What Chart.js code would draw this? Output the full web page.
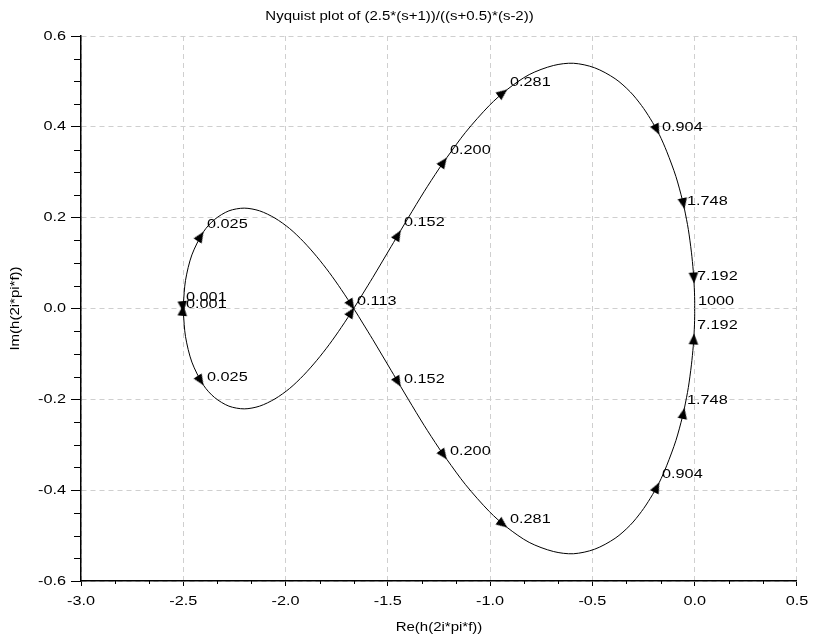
<!DOCTYPE html>
<html><head><meta charset="utf-8">
<script src="https://cdn.jsdelivr.net/npm/chart.js@4.4.1/dist/chart.umd.min.js"></script>
<style>html,body{margin:0;padding:0;background:#fff}#wrap{width:814px;height:640px}</style>
</head><body><div id="wrap"><canvas id="c" width="814" height="640"></canvas></div>
<script>
const titleText = 'Nyquist plot of (2.5*(s+1))/((s+0.5)*(s-2))';
const xTitle = 'Re(h(2i*pi*f))';
const yTitle = 'Im(h(2i*pi*f))';
const xTickValues = [-3.0, -2.5, -2.0, -1.5, -1.0, -0.5, 0.0, 0.5];
const yTickValues = [-0.6, -0.4, -0.2, 0.0, 0.2, 0.4, 0.6];

const curveRe = [-2.500,-2.489,-2.458,-2.401,-2.347,-2.277,-2.202,-2.127,-2.052,-1.980,-1.912,-1.847,-1.786,-1.728,-1.664,-1.623,-1.574,-1.483,-1.437,-1.400,-1.323,-1.251,-1.212,-1.120,-1.004,-0.917,-0.809,-0.691,-0.593,-0.489,-0.389,-0.315,-0.260,-0.217,-0.173,-0.136,-0.092,-0.060,-0.050,-0.031,-0.016,-0.007,-0.003,-0.001,0.000,0.000,0.000];
// branch through the upper small loop and the lower big loop
const curveImPos = [0.008,0.062,0.118,0.169,0.196,0.215,0.221,0.215,0.199,0.176,0.147,0.114,0.079,0.042,-0.002,-0.032,-0.068,-0.137,-0.172,-0.200,-0.257,-0.307,-0.332,-0.388,-0.447,-0.482,-0.515,-0.535,-0.540,-0.530,-0.506,-0.477,-0.447,-0.418,-0.383,-0.345,-0.291,-0.239,-0.219,-0.174,-0.124,-0.083,-0.055,-0.036,-0.017,-0.006,-0.0004];
// branch through the lower small loop and the upper big loop
const curveImNeg = [-0.008,-0.062,-0.118,-0.169,-0.196,-0.215,-0.221,-0.215,-0.199,-0.176,-0.147,-0.114,-0.079,-0.042,0.002,0.032,0.068,0.137,0.172,0.200,0.257,0.307,0.332,0.388,0.447,0.482,0.515,0.535,0.540,0.530,0.506,0.477,0.447,0.418,0.383,0.345,0.291,0.239,0.219,0.174,0.124,0.083,0.055,0.036,0.017,0.006,0.0004];

// Frequency markers (labels and where they sit)
const markFreq = ['0.001','0.025','0.113','0.152','0.200','0.281','0.904','1.748','7.192','1000'];
const markRe = [-2.500,-2.401,-1.664,-1.437,-1.212,-0.917,-0.173,-0.050,-0.003,0.000];
const markImPos = [0.008,0.169,-0.002,-0.172,-0.332,-0.482,-0.383,-0.219,-0.055,-0.0004];
const markImNeg = [-0.008,-0.169,0.002,0.172,0.332,0.482,0.383,0.219,0.055,0.0004];

const FONT = "'Liberation Sans', Arial, sans-serif";

// The reference's lettering is horizontally wide: stretch text along its baseline
const TEXT_STRETCH = 1.25;
const _fillText = CanvasRenderingContext2D.prototype.fillText;
CanvasRenderingContext2D.prototype.fillText = function (t, x, y, mw) {
  this.save();
  this.translate(x, y);
  this.scale(TEXT_STRETCH, 1);
  if (mw !== undefined && mw !== null) _fillText.call(this, t, 0, 0, mw / TEXT_STRETCH);
  else _fillText.call(this, t, 0, 0);
  this.restore();
};

// arrow head image: tip at the centre, pointing to +x
const arrowImg = document.createElement('canvas');
arrowImg.width = 24; arrowImg.height = 24;
(function(){
  const c = arrowImg.getContext('2d');
  c.fillStyle = '#000';
  c.beginPath(); c.moveTo(12, 12); c.lineTo(1, 7.2); c.lineTo(1, 16.8); c.closePath(); c.fill();
})();

function nearestIndex(imArr, re, im) {
  let j = 0, best = Infinity;
  for (let i = 0; i < curveRe.length; i++) {
    const d = (curveRe[i] - re) ** 2 + (imArr[i] - im) ** 2;
    if (d < best) { best = d; j = i; }
  }
  return j;
}
function arrowAngle(chart, imArr, re, im) {
  const xs = chart.scales.x, ys = chart.scales.y;
  const j = nearestIndex(imArr, re, im);
  const a = j > 0 ? j - 1 : j;
  const b = j < curveRe.length - 1 ? j + 1 : j;
  const dx = xs.getPixelForValue(curveRe[b]) - xs.getPixelForValue(curveRe[a]);
  const dy = ys.getPixelForValue(imArr[b]) - ys.getPixelForValue(imArr[a]);
  return Math.atan2(dy, dx) * 180 / Math.PI;
}
function arrowData(imMarks, imArr) {
  const out = [];
  for (let i = 0; i < markRe.length; i++) {
    const j = nearestIndex(imArr, markRe[i], imMarks[i]);
    if (j < curveRe.length - 1) out.push({x: markRe[i], y: imMarks[i]});
  }
  return out;
}
function curveData(imArr) { return curveRe.map((x, i) => ({x: x, y: imArr[i]})); }

function arrowDataset(imMarks, imArr) {
  return {
    type: 'scatter',
    data: arrowData(imMarks, imArr),
    showLine: false,
    pointStyle: arrowImg,
    pointRadius: 5,
    pointRotation: (ctx) => {
      if (ctx.dataIndex === undefined || !ctx.raw) return 0;
      return arrowAngle(ctx.chart, imArr, ctx.raw.x, ctx.raw.y);
    }
  };
}

const minorTicks = {
  id: 'minorTicks',
  afterDraw(chart) {
    const ctx = chart.ctx, xs = chart.scales.x, ys = chart.scales.y, area = chart.chartArea;
    ctx.save();
    ctx.strokeStyle = '#000'; ctx.lineWidth = 1;
    ctx.beginPath();
    for (let k = 0; k < xTickValues.length - 1; k++) {
      const st = xTickValues[k + 1] - xTickValues[k];
      for (let m = 1; m <= 2; m++) {
        const px = Math.round(xs.getPixelForValue(xTickValues[k] + st * m / 3)) + 0.5;
        ctx.moveTo(px, area.bottom); ctx.lineTo(px, area.bottom + 3);
      }
    }
    for (let k = 0; k < yTickValues.length - 1; k++) {
      const st = yTickValues[k + 1] - yTickValues[k];
      for (let m = 1; m <= 3; m++) {
        const py = Math.round(ys.getPixelForValue(yTickValues[k] + st * m / 4)) + 0.5;
        ctx.moveTo(area.left - 7, py); ctx.lineTo(area.left, py);
      }
    }
    ctx.stroke();
    ctx.restore();
  }
};

const freqLabels = {
  id: 'freqLabels',
  afterDatasetsDraw(chart) {
    const ctx = chart.ctx, xs = chart.scales.x, ys = chart.scales.y;
    ctx.save();
    ctx.font = '13px ' + FONT;
    ctx.fillStyle = '#000';
    ctx.textAlign = 'left';
    ctx.textBaseline = 'alphabetic';
    const drawn = [];
    [markImPos, markImNeg].forEach(arr => {
      for (let i = 0; i < markFreq.length; i++) {
        const px = Math.round(xs.getPixelForValue(markRe[i]) + 3);
        const py = Math.round(ys.getPixelForValue(arr[i]) - 4);
        if (drawn.some(d => d.t === markFreq[i] && Math.abs(d.x - px) <= 1 && Math.abs(d.y - py) <= 1)) continue;
        drawn.push({t: markFreq[i], x: px, y: py});
        ctx.fillText(markFreq[i], px, py);
      }
    });
    ctx.restore();
  }
};

new Chart(document.getElementById('c'), {
  type: 'scatter',
  data: {
    datasets: [
      {type: 'scatter', data: curveData(curveImPos), showLine: true, borderColor: '#000', borderWidth: 1, pointRadius: 0, tension: 0.3},
      {type: 'scatter', data: curveData(curveImNeg), showLine: true, borderColor: '#000', borderWidth: 1, pointRadius: 0, tension: 0.3},
      arrowDataset(markImPos, curveImPos),
      arrowDataset(markImNeg, curveImNeg)
    ]
  },
  options: {
    responsive: false,
    animation: false,
    devicePixelRatio: 1,
    layout: {padding: {top: 0, right: 15, bottom: 0, left: 0}},
    plugins: {
      legend: {display: false},
      tooltip: {enabled: false},
      title: {
        display: true, text: titleText, color: '#000',
        font: {family: FONT, size: 12, weight: 'normal', lineHeight: 1.2},
        padding: {top: 9, bottom: 12.6}
      }
    },
    scales: {
      x: {
        type: 'linear', min: -3.0, max: 0.5,
        afterBuildTicks: (s) => { s.ticks = xTickValues.map(v => ({value: v})); },
        afterFit: (s) => { s.height = 59; },
        ticks: {color: '#000', font: {family: FONT, size: 13}, padding: 8, maxRotation: 0, autoSkip: false,
          callback: (v) => Number(v).toFixed(1)},
        grid: {color: '#cfcfcf', lineWidth: 1, tickColor: '#000', tickLength: 5, tickWidth: 1},
        border: {display: true, color: '#000', width: 1.5, dash: [5, 4]},
        title: {display: true, text: xTitle, color: '#000', font: {family: FONT, size: 12, lineHeight: 1.2}, padding: {top: 0, bottom: 5}}
      },
      y: {
        type: 'linear', min: -0.6, max: 0.6,
        afterBuildTicks: (s) => { s.ticks = yTickValues.map(v => ({value: v})); },
        afterFit: (s) => { s.width = 81; },
        ticks: {color: '#000', font: {family: FONT, size: 13}, padding: 5, autoSkip: false,
          callback: (v) => Number(v).toFixed(1)},
        grid: {color: '#cfcfcf', lineWidth: 1, tickColor: '#000', tickLength: 10, tickWidth: 1},
        border: {display: true, color: '#000', width: 1.5, dash: [5, 4]},
        title: {display: true, text: yTitle, color: '#000', font: {family: FONT, size: 12, lineHeight: 1.2}, padding: {top: 8, bottom: 0}}
      }
    }
  },
  plugins: [minorTicks, freqLabels]
});
</script>
</body></html>
